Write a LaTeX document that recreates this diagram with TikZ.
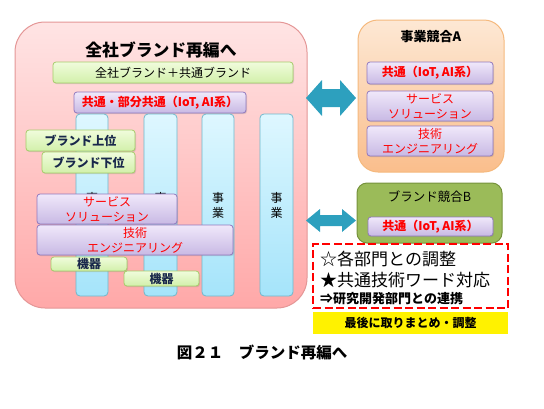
\documentclass[tikz,border=0pt]{standalone}
\usepackage{fontspec}
\setmainfont{Noto Sans CJK JP}
\usetikzlibrary{shadows}
\definecolor{pinkT}{RGB}{255,228,228}
\definecolor{pinkB}{RGB}{255,168,168}
\definecolor{pinkD}{RGB}{228,150,150}
\definecolor{blueT}{RGB}{222,247,255}
\definecolor{blueB}{RGB}{165,228,250}
\definecolor{blueD}{RGB}{110,185,205}
\definecolor{grnT}{RGB}{240,252,220}
\definecolor{grnB}{RGB}{210,240,170}
\definecolor{grnD}{RGB}{165,205,105}
\definecolor{purT}{RGB}{240,232,250}
\definecolor{purB}{RGB}{200,185,228}
\definecolor{purD}{RGB}{145,120,190}
\definecolor{orT}{RGB}{253,232,212}
\definecolor{orB}{RGB}{250,190,140}
\definecolor{orD}{RGB}{245,185,125}
\definecolor{olive}{RGB}{155,187,89}
\definecolor{oliveD}{RGB}{118,146,60}
\definecolor{teal}{RGB}{45,160,190}
\definecolor{navy}{RGB}{25,40,75}
\definecolor{txtred}{RGB}{255,0,0}
\tikzset{
  fs/.style={font=\fontsize{#1}{15}\selectfont},
  fsb/.style={font=\fontsize{#1}{15}\selectfont\bfseries},
  boxbase/.style={draw, line width=0.8pt, rounded corners=3pt, inner sep=0pt, align=center,
    drop shadow={opacity=0.25, shadow xshift=1pt, shadow yshift=-1.2pt}},
  grnbox/.style={boxbase, draw=grnD, top color=grnT, bottom color=grnB, text=navy, fs=12},
  purbox/.style={boxbase, draw=purD, top color=purT, bottom color=purB, text=txtred, fs=12},
  colbox/.style={draw=blueD, line width=0.8pt, rounded corners=4pt, top color=blueT, bottom color=blueB,
    inner sep=0pt, align=center, fs=12, text=black},
  bigbox/.style={line width=1pt, inner sep=0pt},
}
\begin{document}
\begin{tikzpicture}[x=1pt,y=-1pt]
\useasboundingbox (0,0) rectangle (544,408);
% main pink box
\node[bigbox, draw=pinkD, top color=pinkT, bottom color=pinkB, rounded corners=30pt,
  minimum width=292pt, minimum height=286pt] (main) at (161,165) {};
\node[fsb=16.8] (maintitle) at (161,50) {全社ブランド再編へ};
\node[grnbox, minimum width=240pt, minimum height=21pt, text=black] (allbrand) at (173,72.5) {全社ブランド＋共通ブランド};
\node[purbox, fsb=12, minimum width=172pt, minimum height=21pt] (common) at (160,102.5) {共通・部分共通（IoT, AI系）};
% columns
\node[colbox, minimum width=32pt, minimum height=182pt] (col1) at (92,205) {事\\業};
\node[colbox, minimum width=33pt, minimum height=182pt] (col2) at (160.5,205) {事\\業};
\node[colbox, minimum width=32pt, minimum height=182pt] (col3) at (218,205) {事\\業};
\node[colbox, minimum width=33pt, minimum height=182pt] (col4) at (276.5,205) {事\\業};
% overlays
\node[grnbox, fsb=12, minimum width=109pt, minimum height=21pt] (brandup) at (80.5,140.5) {ブランド上位};
\node[grnbox, fsb=12, minimum width=93pt, minimum height=21pt] (branddown) at (88.5,162.5) {ブランド下位};
\node[purbox, minimum width=140pt, minimum height=30pt] (service) at (107,209) {サービス\\ソリューション};
\node[purbox, minimum width=196pt, minimum height=30pt] (tech) at (135,240) {技術\\エンジニアリング};
\node[grnbox, fsb=12, minimum width=76pt, minimum height=14pt] (kiki1) at (89,264) {機器};
\node[grnbox, fsb=12, minimum width=75pt, minimum height=15pt] (kiki2) at (161.5,278.5) {機器};
% box A
\node[bigbox, draw=orD, top color=orT, bottom color=orB, rounded corners=20pt,
  minimum width=146pt, minimum height=152pt] (boxA) at (431,96) {};
\node[fsb=13] (titleA) at (431,37) {事業競合A};
\node[purbox, fsb=12, minimum width=126pt, minimum height=22pt] (a1) at (430,73) {共通（IoT, AI系）};
\node[purbox, minimum width=126pt, minimum height=30pt] (a2) at (430,106) {サービス\\ソリューション};
\node[purbox, minimum width=126pt, minimum height=30pt] (a3) at (430,141) {技術\\エンジニアリング};
% box B
\node[bigbox, draw=oliveD, fill=olive, rounded corners=10pt,
  minimum width=145pt, minimum height=60pt] (boxB) at (429.5,213) {};
\node[fs=12.5] (titleB) at (429.5,197) {ブランド競合B};
\node[purbox, fsb=12, minimum width=125pt, minimum height=19pt] (b1) at (430.5,226.5) {共通（IoT, AI系）};
% arrows
\fill[teal] (306,98) -- (322,80) -- (322,89) -- (340,89) -- (340,80) -- (356,98)
  -- (340,116) -- (340,107) -- (322,107) -- (322,116) -- cycle;
\fill[teal] (306,220.5) -- (320,209) -- (320,215) -- (342,215) -- (342,209) -- (356,220.5)
  -- (342,232) -- (342,226) -- (320,226) -- (320,232) -- cycle;
% red dashed box
\node[draw=txtred, line width=1.6pt, dash pattern=on 8pt off 3.5pt, minimum width=195pt, minimum height=64pt, inner sep=0pt] (redbox) at (410.5,276) {};
\node[fs=17, anchor=west, inner sep=0pt] (l1) at (320,259) {☆各部門との調整};
\node[fs=17, anchor=west, inner sep=0pt] (l2) at (320,280) {★共通技術ワード対応};
\node[fsb=13, anchor=west, inner sep=0pt] (l3) at (320,298.5) {⇒研究開発部門との連携};
\node[fill=yellow, minimum width=195pt, minimum height=22pt, inner sep=0pt, fsb=12] (yellow) at (410.5,323) {最後に取りまとめ・調整};
% caption
\node[fsb=15.5] (caption) at (262,352) {図２１　ブランド再編へ};
\end{tikzpicture}
\end{document}
